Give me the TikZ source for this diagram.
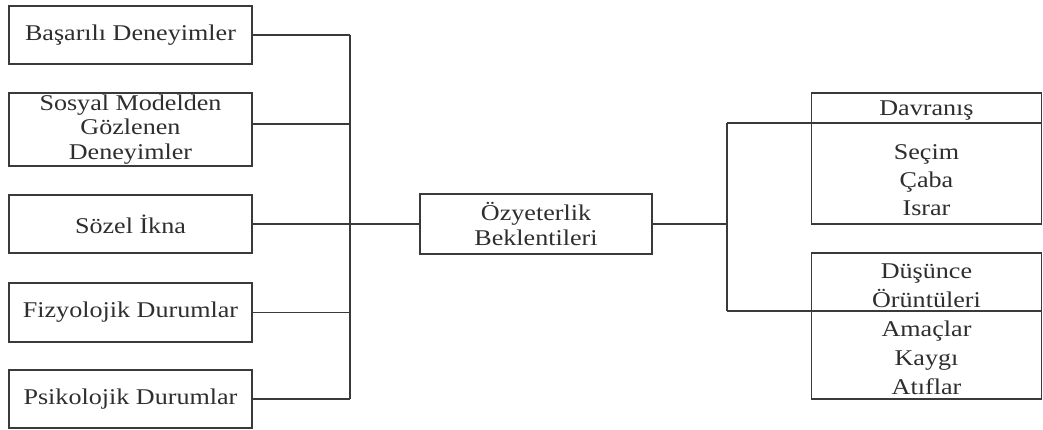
\documentclass[tikz,border=0pt]{standalone}
\usepackage{fontspec}
\setmainfont{Liberation Serif}[FakeStretch=1.16]
\usepackage{tikz}

\definecolor{ink}{HTML}{2E2E2E}
\definecolor{rule}{HTML}{3A3A3A}

\begin{document}
\begin{tikzpicture}[x=1pt,y=-1pt,
    box/.style={draw=rule,line width=1.3pt,text=ink,align=center,inner sep=0pt,
      font=\fontsize{22.5}{28}\selectfont},
    lbox/.style={box,minimum width=243pt,minimum height=58pt},
    tight/.style={font=\fontsize{22.5}{24.5}\selectfont},
    link/.style={draw=rule,line width=1.3pt}]
  \useasboundingbox (0,0) rectangle (1043,430);

  % sources
  \node[lbox] (basari) at (130.5,35) {Başarılı Deneyimler};
  \node[lbox,tight,minimum height=73pt] (model) at (130.5,129.5) {Sosyal Modelden\\Gözlenen\\Deneyimler};
  \node[lbox] (ikna) at (130.5,224) {Sözel İkna};
  \node[lbox,minimum height=59pt] (fizyo) at (130.5,312.5) {Fizyolojik Durumlar};
  \node[lbox] (psiko) at (130.5,399) {Psikolojik Durumlar};

  \node[box,tight,minimum width=232pt,minimum height=60pt] (ozy) at (536,224) {Özyeterlik\\Beklentileri};

  % outcomes
  \node[box,minimum width=230pt,minimum height=131pt] (davranis) at (926.5,158.5)
    {Davranış\\[16pt]Seçim\\Çaba\\Israr};
  \node[box,font=\fontsize{22.5}{29}\selectfont,minimum width=230pt,minimum height=146pt] (dusunce) at (926.5,326)
    {\rule{0pt}{21.5pt}Düşünce\\Örüntüleri\\Amaçlar\\Kaygı\\Atıflar};

  \coordinate (jl) at (350,224);
  \coordinate (dtop) at (727,123);
  \coordinate (dbot) at (727,311);

  \foreach \n in {basari,ikna,fizyo,psiko}
    \draw[link] (\n.east) -- (\n.east -| jl);
  \draw[link] ([yshift=5.5pt]model.east) -- ([yshift=5.5pt]model.east -| jl);
  \draw[link] (basari.east -| jl) -- (psiko.east -| jl);
  \draw[link] (jl) -- (ozy.west);

  \draw[link] (ozy.east) -- (ozy.east -| dtop);
  \draw[link] (dtop) -- (dbot);
  \draw[link] (dtop) -- (dtop -| davranis.east);
  \draw[link] (dbot) -- (dbot -| dusunce.east);
\end{tikzpicture}
\end{document}
